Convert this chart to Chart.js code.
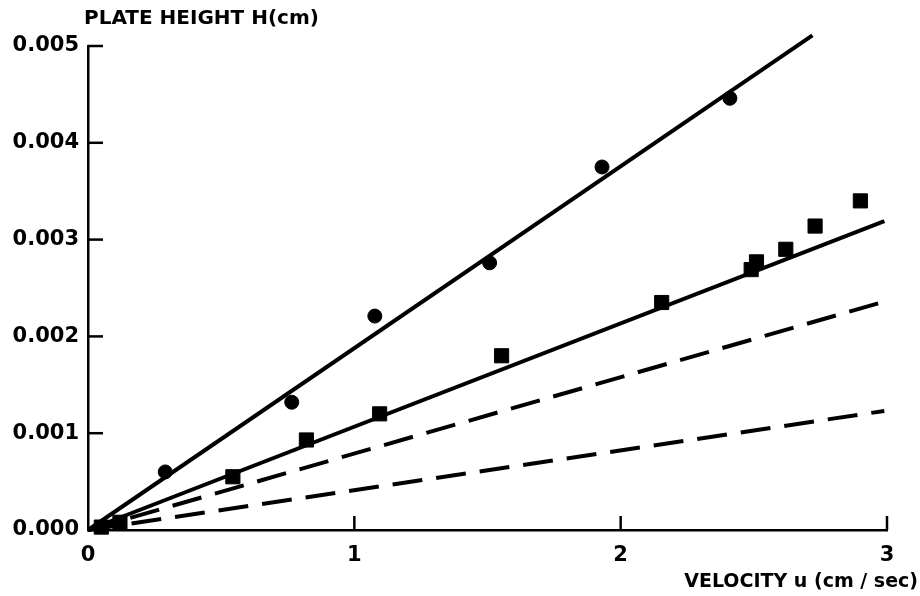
<!DOCTYPE html>
<html>
<head>
<meta charset="utf-8">
<script src="https://cdn.jsdelivr.net/npm/chart.js@4/dist/chart.umd.min.js"></script>
<style>
  html, body { margin: 0; padding: 0; background: #fff; }
  #wrap { width: 920px; height: 596px; }
</style>
</head>
<body>
<div id="wrap"><canvas id="plot"></canvas></div>
<script>
// measured points (velocity u in cm/sec, plate height H in cm)
var circleU = [0.29, 0.765, 1.077, 1.508, 1.93, 2.41];
var circleH = [0.0006, 0.00132, 0.00221, 0.00276, 0.00375, 0.00446];

var squareU = [0.05, 0.12, 0.544, 0.82, 1.095, 1.553, 2.154, 2.49, 2.51, 2.62, 2.73, 2.90];
var squareH = [0.00003, 0.00008, 0.00055, 0.00093, 0.0012, 0.0018, 0.00235, 0.00269, 0.00277, 0.0029, 0.00314, 0.0034];

// fitted lines
var circleFitU = [0, 2.72];
var circleFitH = [0, 0.00511];
var squareFitU = [0, 2.99];
var squareFitH = [0, 0.00319];
var dashUpperU = [0, 2.99];
var dashUpperH = [0, 0.00236];
var dashLowerU = [0, 2.99];
var dashLowerH = [0, 0.00123];

// tick labels
var xTicks = [0, 1, 2, 3];
var yTicks = [0, 0.001, 0.002, 0.003, 0.004, 0.005];

var titleY = 'PLATE HEIGHT H(cm)';
var titleX = 'VELOCITY u (cm / sec)';

function pts(xs, ys) {
    return xs.map(function (x, i) { return { x: x, y: ys[i] }; });
}

var FONT = '"DejaVu Sans", sans-serif';

// ticks pointing into the plot + the two axis titles
var inwardTicks = {
    id: 'inwardTicks',
    afterDraw: function (chart) {
        var ctx = chart.ctx;
        var xs = chart.scales.x, ys = chart.scales.y;
        var left = xs.left, bottom = ys.bottom;
        ctx.save();
        ctx.strokeStyle = '#000';
        ctx.lineWidth = 2.5;
        yTicks.forEach(function (v) {
            if (v === 0) return;
            var py = ys.getPixelForValue(v);
            ctx.beginPath();
            ctx.moveTo(left, py);
            ctx.lineTo(left + 15, py);
            ctx.stroke();
        });
        xTicks.forEach(function (v) {
            if (v === 0) return;
            var px = xs.getPixelForValue(v);
            ctx.beginPath();
            ctx.moveTo(px, bottom);
            ctx.lineTo(px, bottom - 14);
            ctx.stroke();
        });
        ctx.fillStyle = '#000';
        ctx.font = 'bold 20px ' + FONT;
        ctx.textBaseline = 'middle';
        ctx.textAlign = 'left';
        ctx.fillText(titleY, 84, 19);
        ctx.font = 'bold 19px ' + FONT;
        ctx.textAlign = 'right';
        ctx.fillText(titleX, 918, 582);
        ctx.restore();
    }
};

var ctx = document.getElementById('plot').getContext('2d');
var chart = new Chart(ctx, {
    type: 'scatter',
    data: {
        datasets: [
            {
                data: pts(circleFitU, circleFitH),
                showLine: true, borderColor: '#000', borderWidth: 4,
                pointRadius: 0, clip: false
            },
            {
                data: pts(squareFitU, squareFitH),
                showLine: true, borderColor: '#000', borderWidth: 4,
                pointRadius: 0, clip: false
            },
            {
                data: pts(dashUpperU, dashUpperH),
                showLine: true, borderColor: '#000', borderWidth: 4,
                borderDash: [30, 14], pointRadius: 0, clip: false
            },
            {
                data: pts(dashLowerU, dashLowerH),
                showLine: true, borderColor: '#000', borderWidth: 4,
                borderDash: [30, 14], pointRadius: 0, clip: false
            },
            {
                data: pts(circleU, circleH),
                pointStyle: 'circle', pointRadius: 7,
                backgroundColor: '#000', borderColor: '#000', clip: false
            },
            {
                data: pts(squareU, squareH),
                pointStyle: 'rect', pointRadius: 10,
                backgroundColor: '#000', borderColor: '#000', clip: false
            }
        ]
    },
    options: {
        responsive: true,
        maintainAspectRatio: false,
        animation: false,
        layout: { padding: { top: 46, right: 33, left: 0, bottom: 0 } },
        plugins: {
            legend: { display: false },
            tooltip: { enabled: false }
        },
        scales: {
            x: {
                type: 'linear', min: 0, max: 3,
                afterBuildTicks: function (s) { s.ticks = xTicks.map(function (v) { return { value: v }; }); },
                afterFit: function (s) { s.height = 66; },
                grid: { display: false, drawTicks: false },
                border: { display: true, color: '#000', width: 2.5 },
                ticks: {
                    color: '#000', padding: 13,
                    font: { family: FONT, size: 21, weight: 'bold' },
                    callback: function (v) { return String(v); }
                }
            },
            y: {
                type: 'linear', min: 0, max: 0.005,
                afterBuildTicks: function (s) { s.ticks = yTicks.map(function (v) { return { value: v }; }); },
                afterFit: function (s) { s.width = 88; },
                grid: { display: false, drawTicks: false },
                border: { display: true, color: '#000', width: 2.5 },
                ticks: {
                    color: '#000', padding: 9,
                    font: { family: FONT, size: 21, weight: 'bold' },
                    callback: function (v) { return v.toFixed(3); }
                }
            }
        }
    },
    plugins: [inwardTicks]
});
</script>
</body>
</html>
